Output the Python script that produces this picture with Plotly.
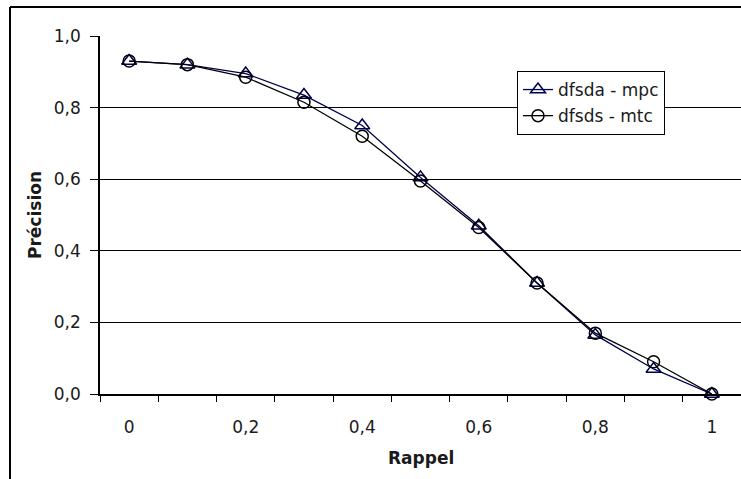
import plotly.graph_objects as go

rappel = [0, 0.1, 0.2, 0.3, 0.4, 0.5, 0.6, 0.7, 0.8, 0.9, 1.0]
precision_mpc = [0.93, 0.92, 0.895, 0.835, 0.75, 0.605, 0.47, 0.31, 0.165, 0.07, 0.0]
precision_mtc = [0.93, 0.92, 0.885, 0.815, 0.72, 0.595, 0.465, 0.31, 0.17, 0.09, 0.0]
series_names = ["dfsda - mpc", "dfsds - mtc"]
x_tick_vals = [0, 0.2, 0.4, 0.6, 0.8, 1.0]
x_tick_text = ["0", "0,2", "0,4", "0,6", "0,8", "1"]
y_tick_vals = [0, 0.2, 0.4, 0.6, 0.8, 1.0]
y_tick_text = ["0,0", "0,2", "0,4", "0,6", "0,8", "1,0"]
x_boundaries = [-0.05, 0.05, 0.15, 0.25, 0.35, 0.45, 0.55, 0.65, 0.75, 0.85, 0.95, 1.05]

font_family = "DejaVu Sans, Liberation Sans, Arial, sans-serif"
text_color = "#1a1a1a"

fig = go.Figure()
fig.add_trace(go.Scatter(
    x=rappel, y=precision_mpc, name=series_names[0], mode="lines+markers",
    line=dict(color="#000050", width=1.3),
    marker=dict(symbol="triangle-up-open", size=13, color="#000050", line=dict(width=1.5)),
    legendgroup="a", cliponaxis=False,
))
fig.add_trace(go.Scatter(
    x=rappel, y=precision_mtc, name=series_names[1], mode="lines+markers",
    line=dict(color="#000000", width=1.3),
    marker=dict(symbol="circle-open", size=12, color="#000000", line=dict(width=1.5)),
    legendgroup="b", cliponaxis=False,
))

W, H = 741, 479
L, R, T, B = 100, 0, 36, 85
pw, ph = W - L - R, H - T - B

def px(x):
    return (x - L) / pw

def py(y):
    return (H - B - y) / ph

fig.update_layout(
    width=W, height=H,
    margin=dict(l=L, r=R, t=T, b=B, pad=0),
    paper_bgcolor="white", plot_bgcolor="white",
    font=dict(family=font_family, size=17, color=text_color),
    showlegend=True,
    legend=dict(
        x=px(517), y=py(71), xanchor="left", yanchor="top",
        bgcolor="white", bordercolor="black", borderwidth=1,
        font=dict(size=17, color=text_color),
        tracegroupgap=1, traceorder="grouped",
    ),
    xaxis=dict(
        range=[-0.05, 1.05], showgrid=False, zeroline=False,
        showline=True, linecolor="black", linewidth=1.5,
        tickmode="array", tickvals=x_tick_vals, ticktext=x_tick_text,
        ticks="outside", ticklen=17, tickcolor="rgba(0,0,0,0)",
        tickfont=dict(size=17),
        minor=dict(tickmode="array", tickvals=x_boundaries, ticks="outside",
                   ticklen=6, tickcolor="black", tickwidth=1, showgrid=False),
    ),
    yaxis=dict(
        range=[0, 1], showgrid=True, gridcolor="black", gridwidth=1,
        zeroline=False, showline=True, linecolor="black", linewidth=1.5,
        tickmode="array", tickvals=y_tick_vals, ticktext=y_tick_text,
        ticks="outside", ticklen=8, tickcolor="black",
        tickfont=dict(size=17), ticklabelstandoff=6,
    ),
    annotations=[
        dict(text="<b>Rappel</b>", x=0.5, y=py(458), xref="paper", yref="paper",
             xanchor="center", yanchor="middle", showarrow=False,
             font=dict(size=17, color=text_color)),
        dict(text="<b>Précision</b>", x=px(35), y=0.5, xref="paper", yref="paper",
             xanchor="center", yanchor="middle", showarrow=False, textangle=-90,
             font=dict(size=17, color=text_color)),
    ],
    shapes=[
        dict(type="line", xref="paper", yref="paper", x0=px(10), x1=px(10),
             y0=py(7), y1=py(482), line=dict(color="black", width=2)),
        dict(type="line", xref="paper", yref="paper", x0=px(10), x1=px(745),
             y0=py(7), y1=py(7), line=dict(color="black", width=2)),
    ],
)

fig.write_html(
    "out.html",
    config={"displayModeBar": False},
    post_script="document.body.style.margin='0';document.body.style.overflow='hidden';",
)
